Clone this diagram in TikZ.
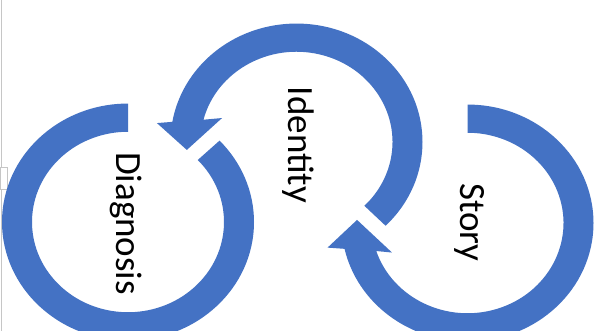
\documentclass[tikz,border=0pt]{standalone}
\usepackage{fontspec}
\setmainfont{Carlito}
\definecolor{ringblue}{HTML}{4472C4}
\begin{document}
\begin{tikzpicture}[x=1pt,y=1pt,
  ringshape/.style={fill=ringblue, draw=none},
  ringtext/.style={font=\fontsize{37}{44}\selectfont, rotate=-90, anchor=base, inner sep=0pt},
  edgeline/.style={draw=gray!45, line width=1pt}]
\useasboundingbox (0,0) rectangle (600,331);
\clip (0,0) rectangle (600,331);
\fill[white] (0,0) rectangle (600,331);
% screenshot edge
\draw[edgeline] (1,0) -- (1,331);
\draw[edgeline, fill=white] (0,141) rectangle (7,163);
% Diagnosis ring
\begin{scope}[shift={(128,109)}, yscale=0.94]
  \fill[ringshape] (90:126) arc[start angle=90, end angle=403.4, radius=126]
    -- (403.4:96) arc[start angle=403.4, end angle=90, radius=96] -- cycle;
\end{scope}
% Identity arrow
\begin{scope}[shift={(296.5,189)}, yscale=0.94]
  \fill[ringshape] (-45:126) arc[start angle=-45, end angle=170.2, radius=126]
    -- (171.8:141) -- (184.4:110) -- (161.1:78.7) -- (165.7:96)
    arc[start angle=165.7, end angle=-45, radius=96] -- cycle;
\end{scope}
% Story arrow
\begin{scope}[shift={(467.5,108)}, yscale=0.94]
  \fill[ringshape] (90:126) arc[start angle=90, end angle=-167.4, radius=126]
    -- (-169.4:142.4) -- (178.3:110.5) -- (-157.4:81.8) -- (-161.9:96)
    arc[start angle=-161.9, end angle=90, radius=96] -- cycle;
\end{scope}
% labels
\node[ringtext] (diag) at (116,107.5) {Diagnosis};
\node[ringtext] (iden) at (288,186) {Identity};
\node[ringtext] (story) at (460.5,108.5) {Story};
\end{tikzpicture}
\end{document}
